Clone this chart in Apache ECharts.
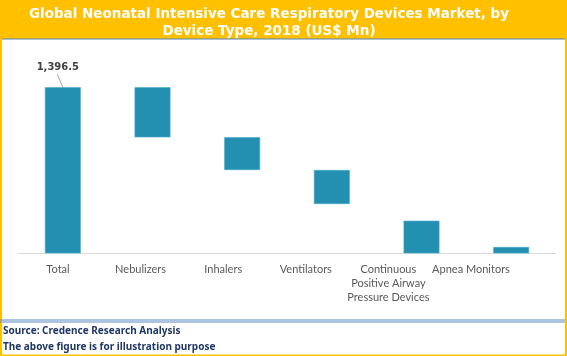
<!DOCTYPE html>
<html><head><meta charset="utf-8">
<script src="https://cdn.jsdelivr.net/npm/echarts@6/dist/echarts.min.js"></script>
<style>html,body{margin:0;padding:0;background:#fff}#c{width:567px;height:356px}</style>
</head><body><div id="c"></div>
<script>
// Data
const titleText = 'Global Neonatal Intensive Care Respiratory Devices Market, by\nDevice Type, 2018 (US$ Mn)';
const categories = ['Total', 'Nebulizers', 'Inhalers', 'Ventilators', 'Continuous\nPositive Airway\nPressure Devices', 'Apnea Monitors'];
// bottom of each floating bar (invisible base) and visible bar height
const barBase = [0, 975.8, 700.8, 414.8, 0, 0];
const barValue = [1396.5, 420.7, 275.0, 286.0, 274.0, 53.0];
const totalLabel = '1,396.5';
const sourceLines = ['Source: Credence Research Analysis', 'The above figure is for illustration purpose'];

const chart = echarts.init(document.getElementById('c'), null, {renderer: 'canvas'});
const frame = [
  {type: 'rect', shape: {x: 0, y: 0, width: 567, height: 39}, style: {fill: '#ffc000'}, z: -1},
  {type: 'rect', shape: {x: 0, y: 38.5, width: 567, height: 1}, style: {fill: '#4f81bd'}, z: -1},
  {type: 'rect', shape: {x: 0, y: 0, width: 2, height: 356}, style: {fill: '#ffc000'}},
  {type: 'rect', shape: {x: 565, y: 0, width: 2, height: 356}, style: {fill: '#ffc000'}},
  {type: 'rect', shape: {x: 0, y: 354.5, width: 567, height: 1.5}, style: {fill: '#ffc000'}},
  {type: 'rect', shape: {x: 0, y: 319.5, width: 565, height: 1}, style: {fill: '#5a8ac6'}},
  {type: 'rect', shape: {x: 0, y: 321.5, width: 565, height: 1}, style: {fill: '#5a8ac6'}},
  {type: 'text', x: 3, y: 331, style: {text: sourceLines[0], fill: '#1f3864', font: 'bold 10px "Noto Sans"', textVerticalAlign: 'middle'}},
  {type: 'text', x: 3, y: 347, style: {text: sourceLines[1], fill: '#1f3864', font: 'bold 10px "Noto Sans"', textVerticalAlign: 'middle'}}
];
chart.setOption({
  animation: false,
  backgroundColor: '#fff',
  title: {
    text: titleText, left: 264, top: 1, textAlign: 'center',
    textStyle: {color: '#fff', fontFamily: 'DejaVu Sans', fontWeight: 'bold', fontSize: 13.5, lineHeight: 17}
  },
  grid: [
    {left: 18, right: 11, top: 63.1, bottom: 102.7, containLabel: false},
    {left: 16.7, right: 54.7, top: 63.1, bottom: 102.7, containLabel: false}
  ],
  xAxis: [
    {type: 'category', data: categories, gridIndex: 0,
     axisLine: {lineStyle: {color: '#d9d9d9'}}, axisTick: {show: false}, axisLabel: {show: false}},
    {type: 'category', data: categories, gridIndex: 1,
     axisLine: {show: false}, axisTick: {show: false},
     axisLabel: {color: '#595959', fontFamily: 'Lato', fontSize: 11, lineHeight: 14, margin: 9, interval: 0}}
  ],
  yAxis: [
    {type: 'value', min: 0, max: 1600, show: false, splitLine: {show: false}, gridIndex: 0},
    {type: 'value', min: 0, max: 1600, show: false, splitLine: {show: false}, gridIndex: 1}
  ],
  series: [
    {type: 'bar', stack: 'w', data: barBase, itemStyle: {color: 'transparent'}, barWidth: '40%', silent: true},
    {type: 'bar', stack: 'w', data: barValue.map((v, i) => ({
        value: v,
        label: i === 0 ? {show: true, formatter: totalLabel} : {show: false}
      })),
      barWidth: '40%',
      itemStyle: {color: '#2390b1', borderColor: '#48aacb', borderWidth: 0.6},
      label: {position: 'top', distance: 4, color: '#404040', fontFamily: 'DejaVu Sans', fontWeight: 'bold', fontSize: 10},
      labelLayout: {dx: -5, dy: -11}
    }
  ],
  graphic: frame
});
// leader line from the total label to the top of the total bar
const top0 = chart.convertToPixel({xAxisIndex: 0, yAxisIndex: 0}, [0, barValue[0]]);
chart.setOption({graphic: frame.concat([
  {type: 'line', shape: {x1: top0[0] - 5.5, y1: top0[1] - 13, x2: top0[0], y2: top0[1]},
   style: {stroke: '#a6a6a6', lineWidth: 1}}
])});
</script></body></html>
